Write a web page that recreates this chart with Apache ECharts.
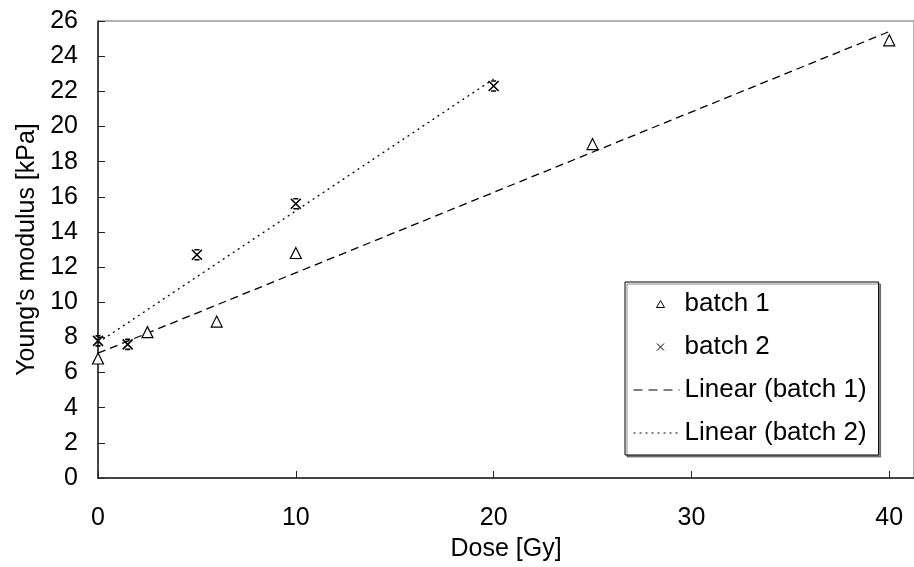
<!DOCTYPE html>
<html>
<head>
<meta charset="utf-8">
<script src="https://cdn.jsdelivr.net/npm/echarts@6/dist/echarts.min.js"></script>
<style>html,body{margin:0;padding:0;background:#fff}#c{width:914px;height:567px}</style>
</head>
<body>
<div id="c"></div>
<script>
// Data
const batch1Dose = [0, 2.5, 6, 10, 25, 40];
const batch1Mod  = [6.8, 8.3, 8.9, 12.8, 19.0, 24.9];
const batch2Dose = [0, 1.5, 5, 10, 20];
const batch2Mod  = [7.8, 7.6, 12.7, 15.6, 22.3];
// Trend line end points as drawn in the reference
const trend1Dose = [0, 40];
const trend1Mod  = [7.1, 25.4];
const trend2Dose = [0, 20];
const trend2Mod  = [7.7, 22.7];
const seriesNames = ['batch 1', 'batch 2', 'Linear (batch 1)', 'Linear (batch 2)'];
const xTitle = 'Dose [Gy]';
const yTitle = "Young's modulus [kPa]";

const pairs = (xs, ys) => xs.map((x, i) => [x, ys[i]]);
const FONT = "'Liberation Sans', Arial, sans-serif";
const crossPath = 'path://M0,0L10,10M10,0L0,10M2.5,0L7.5,0M2.5,10L7.5,10';

// legend icons: a 46x10 box is fixed by the two leading moveTo points
const legTri   = 'path://M0,0M46,10M27,1.5L31,8.5L23,8.5Z';
const legCross = 'path://M0,0M46,10M23.5,1.5L30.5,8.5M30.5,1.5L23.5,8.5';
const legLine  = 'path://M0,0M46,10M0,5L46,5';

const chart = echarts.init(document.getElementById('c'), null, {renderer: 'canvas'});
chart.setOption({
  animation: false,
  backgroundColor: '#fff',
  textStyle: {fontFamily: FONT, color: '#000'},
  grid: {left: 98, top: 21, width: 823, height: 462.3, show: true, borderColor: '#666', borderWidth: 1},
  xAxis: {
    type: 'value', min: 0, max: 41.25, interval: 10,
    name: xTitle, nameLocation: 'middle', nameGap: 59,
    nameTextStyle: {fontSize: 25, fontFamily: FONT, color: '#000'},
    axisLine: {onZero: false, lineStyle: {color: '#222', width: 1.5}},
    axisTick: {inside: true, length: 7, lineStyle: {color: '#222', width: 1}},
    axisLabel: {fontSize: 25, fontFamily: FONT, color: '#000', margin: 28, showMaxLabel: false},
    splitLine: {show: false}
  },
  yAxis: {
    type: 'value', min: 0, max: 26, interval: 2,
    name: yTitle, nameLocation: 'middle', nameGap: 58,
    nameTextStyle: {fontSize: 25, fontFamily: FONT, color: '#000'},
    axisLine: {show: true, lineStyle: {color: '#222', width: 1.5}},
    axisTick: {show: true, inside: true, length: 7, lineStyle: {color: '#222', width: 1}},
    axisLabel: {fontSize: 25, fontFamily: FONT, color: '#000', margin: 20},
    splitLine: {show: false}
  },
  legend: {
    orient: 'vertical', left: 625, top: 282,
    padding: [9, 12, 9, 6], itemGap: 17, itemWidth: 46, itemHeight: 10,
    backgroundColor: '#fff', borderColor: '#000', borderWidth: 1,
    shadowColor: 'rgba(0,0,0,0.45)', shadowOffsetX: 2, shadowOffsetY: 2, shadowBlur: 0,
    textStyle: {fontSize: 26, fontFamily: FONT, color: '#000'},
    data: [
      {name: seriesNames[0], icon: legTri, itemStyle: {color: '#fff', borderColor: '#000', borderWidth: 1}},
      {name: seriesNames[1], icon: legCross, itemStyle: {color: 'none', borderColor: '#000', borderWidth: 1}},
      {name: seriesNames[2], icon: legLine, itemStyle: {color: 'none', borderColor: '#000', borderWidth: 1.2, borderType: [9, 6]}},
      {name: seriesNames[3], icon: legLine, itemStyle: {color: 'none', borderColor: '#000', borderWidth: 1.2, borderType: [2, 4]}}
    ]
  },
  series: [
    {
      name: seriesNames[0], type: 'scatter', z: 5,
      data: pairs(batch1Dose, batch1Mod),
      symbol: 'triangle', symbolSize: 11,
      itemStyle: {color: '#fff', borderColor: '#000', borderWidth: 1.2, opacity: 1}
    },
    {
      name: seriesNames[1], type: 'scatter', z: 5,
      data: pairs(batch2Dose, batch2Mod),
      symbol: crossPath, symbolSize: 10,
      itemStyle: {color: 'none', borderColor: '#000', borderWidth: 1.6, opacity: 1}
    },
    {
      name: seriesNames[2], type: 'line', z: 3,
      data: pairs(trend1Dose, trend1Mod),
      symbol: 'none', showSymbol: false,
      lineStyle: {color: '#000', width: 1.3, type: [8, 5]},
      itemStyle: {color: '#000'}
    },
    {
      name: seriesNames[3], type: 'line', z: 3,
      data: pairs(trend2Dose, trend2Mod),
      symbol: 'none', showSymbol: false,
      lineStyle: {color: '#000', width: 1.3, type: [2, 4]},
      itemStyle: {color: '#000'}
    }
  ]
});
</script>
</body>
</html>
